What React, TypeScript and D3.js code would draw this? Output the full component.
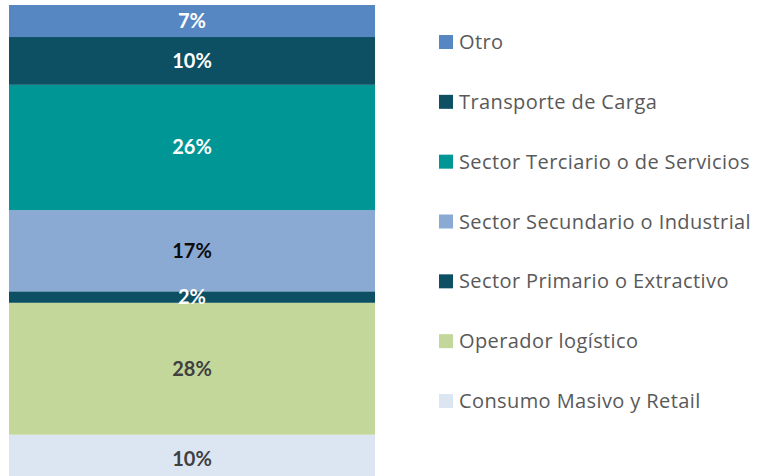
import React from 'react';
import * as d3 from 'd3';

// single 100% stacked column, bottom to top
const categories = [
  'Consumo Masivo y Retail',
  'Operador logístico',
  'Sector Primario o Extractivo',
  'Sector Secundario o Industrial',
  'Sector Terciario o de Servicios',
  'Transporte de Carga',
  'Otro',
];
const shares = [10.1, 27.6, 2.4, 17.0, 26.2, 10.0, 6.7];
const colors = ['#DCE6F2', '#C4D79B', '#0D4F63', '#8AAAD4', '#009695', '#0D4F63', '#5687C3'];
const labelColors = ['#404040', '#404040', '#FFFFFF', '#0D0D0D', '#FFFFFF', '#FFFFFF', '#FFFFFF'];

const W = 757;
const H = 476;

export default function App() {
  const row: Record<string, number> = {};
  categories.forEach((c, i) => (row[c] = shares[i]));
  const series = d3.stack<Record<string, number>>().keys(categories)([row]);

  const x = d3.scaleBand().domain(['total']).range([9, 375]).padding(0);
  const y = d3.scaleLinear().domain([0, 100]).range([483, 5]);

  // legend lists top segment first
  const legendOrder = categories.map((_, i) => i).reverse();
  const legendY = d3.scalePoint<number>().domain(legendOrder).range([42, 401]);

  return (
    <svg
      width={W}
      height={H}
      style={{ position: 'absolute', left: 0, top: 0, background: '#fff' }}
      fontFamily="Lato, 'Open Sans', sans-serif"
    >
      {series.map((s, i) => {
        const [y0, y1] = s[0];
        return (
          <rect
            key={s.key}
            x={x('total')}
            width={x.bandwidth()}
            y={y(y1)}
            height={y(y0) - y(y1)}
            fill={colors[i]}
          />
        );
      })}
      {series.map((s, i) => {
        const [y0, y1] = s[0];
        return (
          <text
            key={s.key + '-l'}
            x={x('total')! + x.bandwidth() / 2}
            y={(y(y0) + y(y1)) / 2}
            dy="0.35em"
            textAnchor="middle"
            fontWeight="bold"
            fontSize={20}
            fill={labelColors[i]}
          >
            {Math.round(shares[i])}%
          </text>
        );
      })}
      {legendOrder.map((i) => (
        <g key={categories[i] + '-lg'} transform={`translate(439,${legendY(i)})`}>
          <rect x={0} y={-7} width={14} height={14} fill={colors[i]} />
          <text
            x={20}
            dy="0.35em"
            fontSize={20}
            letterSpacing={0.4}
            fill="#595959"
            fontFamily="'Open Sans', sans-serif"
          >
            {categories[i]}
          </text>
        </g>
      ))}
    </svg>
  );
}
